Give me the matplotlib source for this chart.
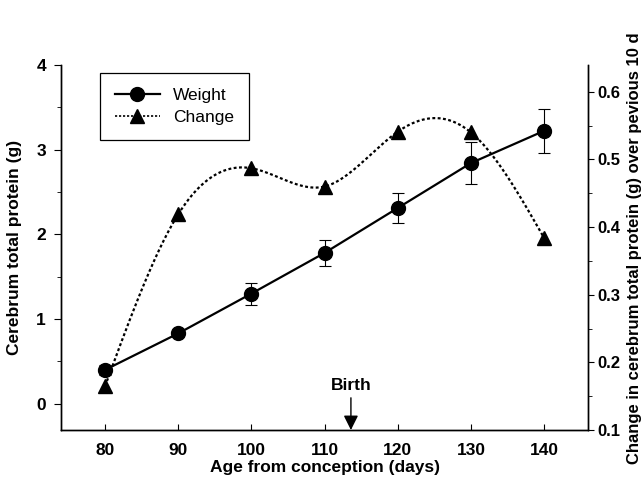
import numpy as np
import matplotlib
matplotlib.use("Agg")
import matplotlib.pyplot as plt
from matplotlib.ticker import MultipleLocator

plt.rcParams['font.family'] = ['Liberation Sans', 'DejaVu Sans']

# data
age = [80, 90, 100, 110, 120, 130, 140]
weight = [0.40, 0.83, 1.30, 1.78, 2.31, 2.84, 3.22]
weight_err = [0.06, 0.03, 0.13, 0.15, 0.18, 0.25, 0.26]
change = [0.165, 0.419, 0.487, 0.460, 0.541, 0.540, 0.384]
birth_day = 113.6


def spline_natural(x, y, n=300):
    # natural cubic spline, used only to draw the smooth dotted curve
    x = np.asarray(x, float)
    y = np.asarray(y, float)
    k = len(x)
    h = np.diff(x)
    A = np.zeros((k, k))
    b = np.zeros(k)
    A[0, 0] = 1
    A[-1, -1] = 1
    for i in range(1, k - 1):
        A[i, i - 1] = h[i - 1]
        A[i, i] = 2 * (h[i - 1] + h[i])
        A[i, i + 1] = h[i]
        b[i] = 6 * ((y[i + 1] - y[i]) / h[i] - (y[i] - y[i - 1]) / h[i - 1])
    M = np.linalg.solve(A, b)
    xs = np.linspace(x[0], x[-1], n)
    ys = np.empty_like(xs)
    for j, t in enumerate(xs):
        i = min(np.searchsorted(x, t, side='right') - 1, k - 2)
        a = x[i + 1] - t
        c = t - x[i]
        ys[j] = (M[i] * a**3 + M[i + 1] * c**3) / (6 * h[i]) \
            + (y[i] / h[i] - M[i] * h[i] / 6) * a \
            + (y[i + 1] / h[i] - M[i + 1] * h[i] / 6) * c
    return xs, ys


fig = plt.figure(figsize=(6.44, 4.87), dpi=100)
ax = fig.add_axes([0.095, 0.117, 0.818, 0.750])
ax2 = ax.twinx()

ax.errorbar(age, weight, yerr=weight_err, fmt='none', ecolor='k',
            elinewidth=0.8, capsize=4, capthick=0.8, zorder=2)
ax.plot(age, weight, '-', color='k', lw=1.6, zorder=3)
ax.plot(age, weight, 'o', color='k', ms=10, zorder=4)

xs, ys = spline_natural(age, change)
ax2.plot(xs, ys, color='k', lw=1.6, linestyle=(0, (1.3, 1.1)))
ax2.plot(age, change, '^', color='k', ms=9.5, clip_on=False)

# legend proxies
h1, = ax2.plot([], [], '-o', color='k', lw=1.6, ms=10, label='Weight')
h2, = ax2.plot([], [], '^', color='k', ms=9.5, lw=1.2,
               linestyle=(0, (1.3, 1.1)), label='Change')
leg = ax2.legend(handles=[h1, h2], loc='upper left',
                 bbox_to_anchor=(0.074, 0.978), borderaxespad=0,
                 fancybox=False, edgecolor='k', framealpha=1,
                 fontsize=12.5, handlelength=2.6, handletextpad=0.75,
                 borderpad=0.85, labelspacing=0.4)
leg.get_frame().set_linewidth(0.9)

ax.set_xlim(74, 146)
ax.set_ylim(-0.31, 4.0)
ax2.set_ylim(0.1, 0.64)

for a in (ax, ax2):
    a.spines['top'].set_visible(False)
    for s in ('left', 'right', 'bottom'):
        a.spines[s].set_linewidth(1.0)

ax.set_xticks(age)
ax.set_yticks([0, 1, 2, 3, 4])
ax.yaxis.set_minor_locator(MultipleLocator(0.5))
ax2.set_yticks([0.1, 0.2, 0.3, 0.4, 0.5, 0.6])
ax2.yaxis.set_minor_locator(MultipleLocator(0.05))

ax.tick_params(axis='x', direction='in', length=4, width=0.8, pad=9,
               labelsize=12.5)
ax.tick_params(axis='y', which='major', direction='out', length=5,
               width=0.8, pad=6, labelsize=12.5)
ax.tick_params(axis='y', which='minor', direction='out', length=3,
               width=0.6)
ax2.tick_params(axis='y', which='major', direction='out', length=4,
                width=0.8, pad=3, labelsize=12)
ax2.tick_params(axis='y', which='minor', direction='out', length=3,
                width=0.6)
for lab in ax.get_xticklabels() + ax.get_yticklabels() + ax2.get_yticklabels():
    lab.set_fontweight('bold')

ax.set_xlabel('Age from conception (days)', fontsize=12.5,
              fontweight='bold', labelpad=2)
ax.set_ylabel('Cerebrum total protein (g)', fontsize=12.5,
              fontweight='bold', labelpad=10)
fig.text(0.986, 0.49, 'Change in cerebrum total protein (g) over pevious 10 d',
         rotation=90, ha='center', va='center', fontsize=12,
         fontweight='bold')

# birth marker
ax.annotate('', xy=(birth_day, -0.31), xytext=(birth_day, 0.07),
            arrowprops=dict(arrowstyle='-|>', color='k', lw=1.0,
                            mutation_scale=22, shrinkA=0, shrinkB=0),
            annotation_clip=False)
ax.text(birth_day, 0.21, 'Birth', ha='center', va='center',
        fontsize=12.5, fontweight='bold')

fig.savefig('out.png', dpi=100)
